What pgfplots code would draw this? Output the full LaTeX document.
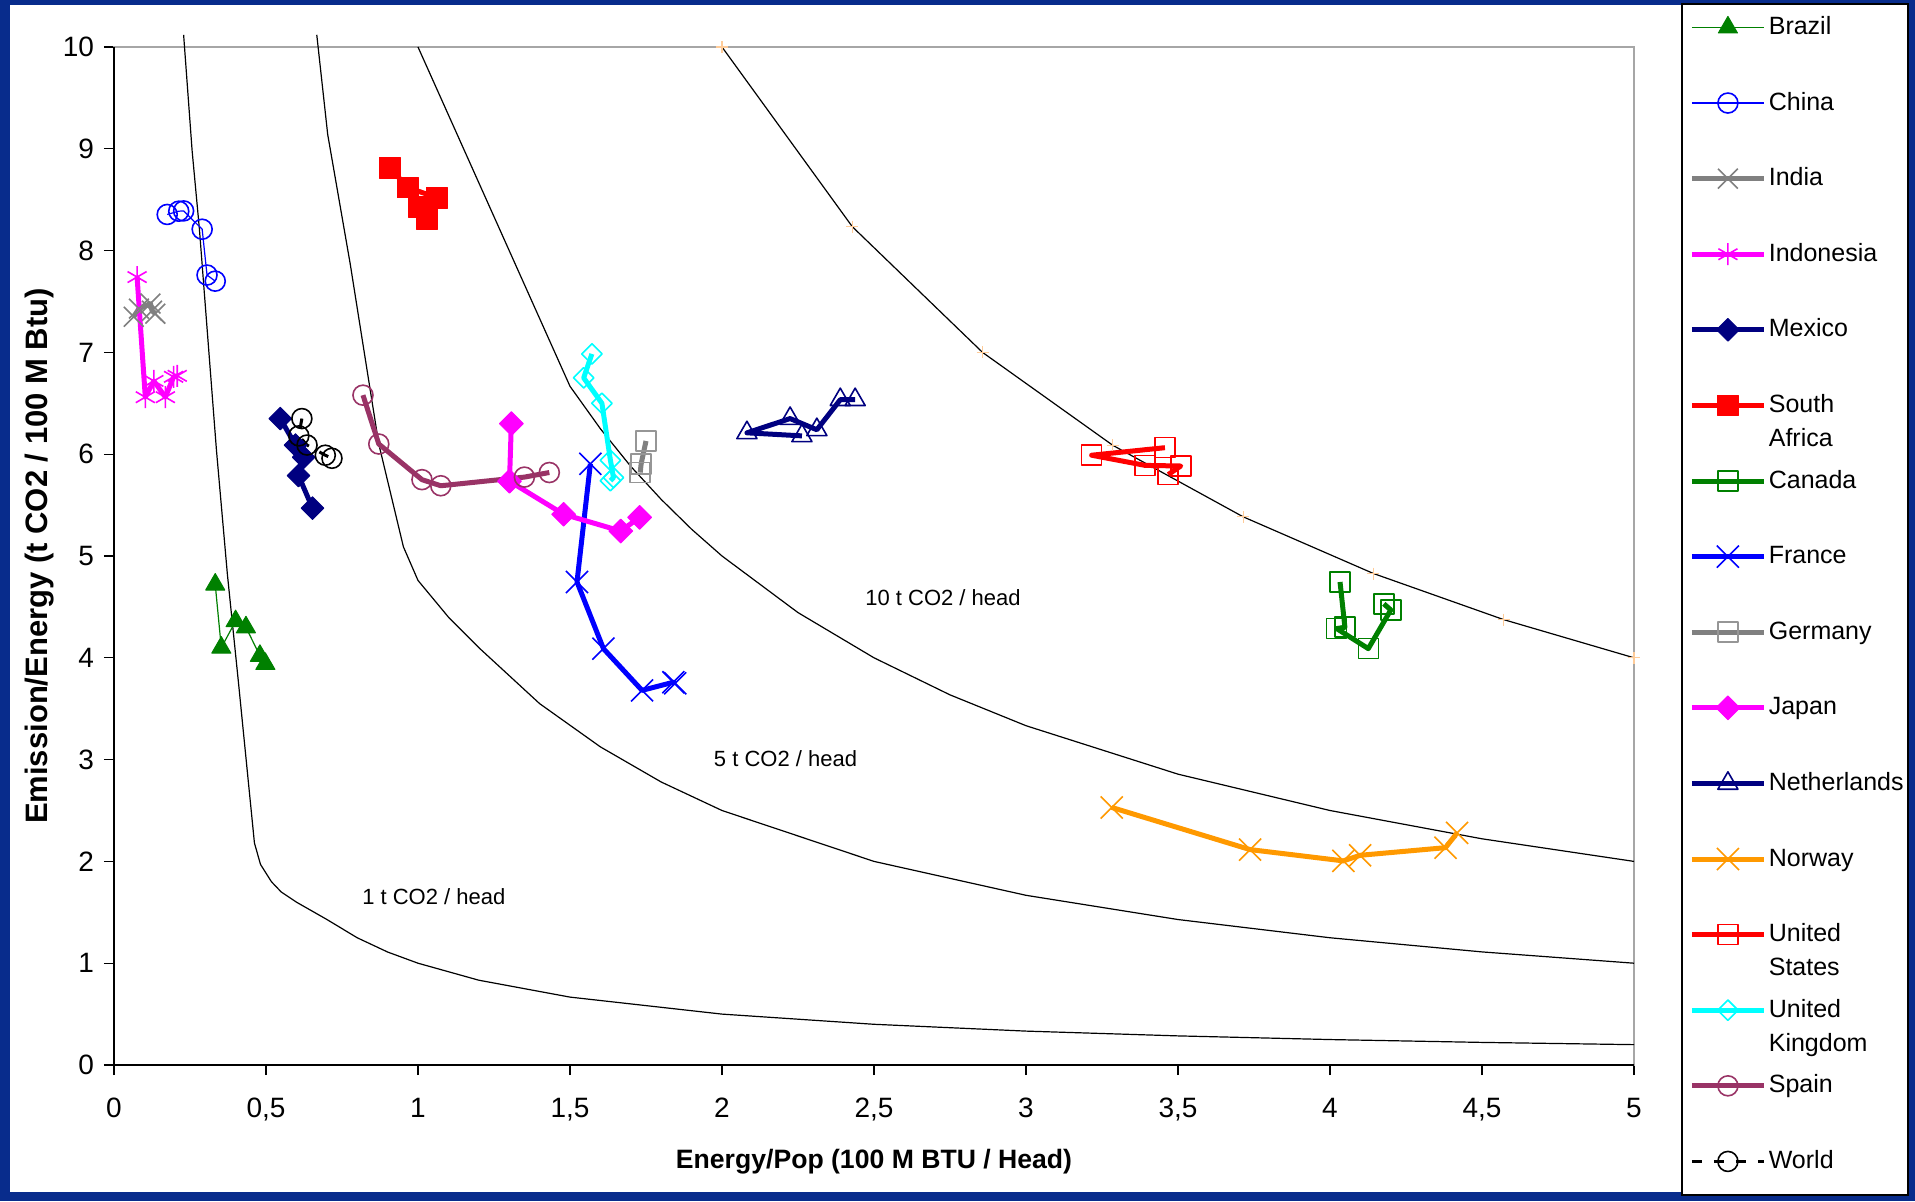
\documentclass[border=0pt]{standalone}
\usepackage{pgfplots}
\pgfplotsset{compat=1.18}
\usepackage{fontspec}
\setmainfont{Liberation Sans}
\definecolor{bgblue}{RGB}{8,44,140}
\definecolor{cgreen}{RGB}{0,128,0}
\definecolor{cblue}{RGB}{0,0,255}
\definecolor{cgray}{RGB}{128,128,128}
\definecolor{cgrayl}{RGB}{150,150,150}
\definecolor{cmag}{RGB}{255,0,255}
\definecolor{cnavy}{RGB}{0,0,128}
\definecolor{cred}{RGB}{255,0,0}
\definecolor{corange}{RGB}{255,153,0}
\definecolor{ccyan}{RGB}{0,255,255}
\definecolor{cplum}{RGB}{153,51,102}
\definecolor{cpeach}{RGB}{255,204,153}
\begin{document}
\begin{tikzpicture}
\fill[bgblue] (0,0) rectangle (957.5pt,600.5pt);
\fill[white] (5pt,4.5pt) rectangle (954pt,598pt);
\filldraw[fill=white,draw=black,line width=0.6pt] (841pt,3pt) rectangle (954pt,598.5pt);
\begin{axis}[
  at={(57pt,68pt)}, anchor=south west,
  scale only axis, width=760pt, height=509pt,
  xmin=0, xmax=5, ymin=0, ymax=10,
  clip=false,
  axis line style={draw=gray!70, line width=0.8pt},
  tick align=outside, major tick length=5pt,
  tick style={black, line width=0.6pt},
  xtick pos=left, ytick pos=left,
  xtick={0,0.5,1,1.5,2,2.5,3,3.5,4,4.5,5},
  xticklabels={0,{0,5},1,{1,5},2,{2,5},3,{3,5},4,{4,5},5},
  ytick={0,1,2,3,4,5,6,7,8,9,10},
  /pgf/number format/assume math mode=true,
  ticklabel style={font=\fontsize{14}{16}\selectfont},
  xticklabel style={yshift=-8pt},
  yticklabel style={xshift=-1.5pt},
  xlabel={Energy/Pop (100 M BTU / Head)},
  ylabel={Emission/Energy (t CO2 / 100 M Btu)},
  xlabel style={font=\bfseries\fontsize{13.3}{15}\selectfont, at={(axis description cs:0.5,-0.0953)}, anchor=center},
  ylabel style={font=\bfseries\fontsize{15.5}{17}\selectfont, at={(axis description cs:-0.0493,0.5)}, anchor=center},
  legend style={at={(axis description cs:1.0362,1.0324)}, anchor=north west, draw=none, fill=none,
    inner sep=0pt, row sep=24.8pt, column sep=1.2pt, font=\fontsize{12.5}{14}\selectfont,
    nodes={inner sep=0pt, text height=10pt, text depth=3pt}},
  legend cell align=left,
  legend image code/.code={\draw[mark repeat=2,mark phase=2] plot coordinates {(0pt,0pt) (18pt,0pt) (36pt,0pt)};},
  every axis plot/.append style={line join=round},
]
% reference curves (t CO2 / head)
\addplot[black, line width=0.6pt, forget plot] coordinates {
(0.229,10.12) (0.257,8.98) (0.281,8.21) (0.337,6.04) (0.373,4.82) (0.410,3.74) (0.442,2.78) (0.462,2.18)
(0.482,1.97) (0.518,1.80) (0.55,1.70) (0.6,1.60) (0.7,1.43) (0.8,1.25) (0.9,1.11) (1,1) (1.2,0.833) (1.5,0.667)
(2,0.5) (2.5,0.4) (3,0.333) (3.5,0.286) (4,0.25) (4.5,0.222) (5,0.2)};
\addplot[black, line width=0.6pt, forget plot] coordinates {
(0.667,10.12) (0.703,9.14) (0.777,7.87) (0.871,6.10) (0.952,5.09) (1.0,4.76) (1.1,4.40) (1.2,4.10) (1.4,3.55)
(1.6,3.125) (1.8,2.78) (2,2.5) (2.5,2) (3,1.667) (3.5,1.429) (4,1.25) (4.5,1.111) (5,1)};
\addplot[black, line width=0.6pt, forget plot] coordinates {
(1,10) (1.5,6.667) (1.6,6.25) (1.7,5.88) (1.8,5.556) (1.9,5.263) (2,5) (2.25,4.444) (2.5,4) (2.75,3.636)
(3,3.333) (3.5,2.857) (4,2.5) (4.5,2.222) (5,2)};
\addplot[black, line width=0.6pt, forget plot, mark=+, mark size=3pt, mark options={cpeach, line width=0.6pt}] coordinates {
(2,10) (2.4286,8.235) (2.8571,7.0) (3.2857,6.087) (3.7143,5.385) (4.1429,4.828) (4.5714,4.375) (5,4)};
\node[font=\fontsize{11}{13}\selectfont] at (axis cs:2.727,4.59) {10 t CO2 / head};
\node[font=\fontsize{11}{13}\selectfont] at (axis cs:2.209,3.01) {5 t CO2 / head};
\node[font=\fontsize{11}{13}\selectfont] at (axis cs:1.052,1.655) {1 t CO2 / head};
% countries
\addplot[cgreen, line width=0.6pt, mark=triangle*, mark size=5.5pt, mark options={fill=cgreen, line width=0.5pt}] coordinates {
(0.333,4.72) (0.353,4.10) (0.40,4.36) (0.434,4.30) (0.48,4.02) (0.498,3.94)};
\addlegendentry{Brazil}
\addplot[cblue, line width=0.6pt, mark=o, mark size=5pt, mark options={line width=0.8pt}] coordinates {
(0.175,8.355) (0.213,8.387) (0.229,8.39) (0.29,8.21) (0.306,7.76) (0.333,7.70)};
\addlegendentry{China}
\addplot[cgray, line width=2.5pt, mark=x, mark size=7pt, mark options={line width=0.8pt}] coordinates {
(0.065,7.35) (0.082,7.43) (0.12,7.48) (0.125,7.41) (0.136,7.38)};
\addlegendentry{India}
\addplot[cmag, line width=2.5pt, mark=asterisk, mark size=5.5pt, mark options={line width=0.8pt}] coordinates {
(0.076,7.74) (0.103,6.56) (0.131,6.72) (0.169,6.56) (0.196,6.76) (0.208,6.77)};
\addlegendentry{Indonesia}
\addplot[cnavy, line width=2.5pt, mark=square*, mark size=4pt, mark options={rotate=45, line width=0.5pt}] coordinates {
(0.547,6.35) (0.597,6.09) (0.624,5.97) (0.607,5.79) (0.653,5.47)};
\addlegendentry{Mexico}
\addplot[cred, line width=2.5pt, mark=square*, mark size=5.2pt, mark options={line width=0.5pt}] coordinates {
(0.909,8.81) (0.966,8.62) (1.062,8.52) (1.002,8.43) (1.03,8.31)};
\addlegendentry{\parbox[t]{70pt}{\setlength{\baselineskip}{17pt}South\\Africa}}
\addplot[cgreen, line width=2.5pt, mark=square, mark size=5pt, mark options={line width=0.8pt}] coordinates {
(4.033,4.745) (4.049,4.30) (4.022,4.287) (4.126,4.09) (4.20,4.47) (4.177,4.53)};
\addlegendentry{Canada}
\addplot[cblue, line width=2.5pt, mark=x, mark size=7.8pt, mark options={line width=0.8pt}] coordinates {
(1.567,5.906) (1.523,4.745) (1.61,4.09) (1.737,3.68) (1.84,3.76) (1.846,3.75)};
\addlegendentry{France}
\addplot[cgray, line width=2.5pt, mark=square, mark size=5pt, mark options={cgrayl, line width=0.8pt}] coordinates {
(1.75,6.13) (1.734,5.905) (1.731,5.82)};
\addlegendentry{Germany}
\addplot[cmag, line width=2.5pt, mark=square*, mark size=4.2pt, mark options={rotate=45, line width=0.5pt}] coordinates {
(1.307,6.30) (1.301,5.735) (1.479,5.41) (1.667,5.245) (1.729,5.38)};
\addlegendentry{Japan}
\addplot[cnavy, line width=2.5pt, mark=triangle, mark size=5.8pt, mark options={line width=0.8pt}] coordinates {
(2.263,6.18) (2.082,6.21) (2.224,6.35) (2.312,6.24) (2.389,6.535) (2.438,6.535)};
\addlegendentry{Netherlands}
\addplot[corange, line width=2.5pt, mark=x, mark size=7.8pt, mark options={line width=0.8pt}] coordinates {
(3.282,2.53) (3.737,2.116) (4.044,2.005) (4.099,2.06) (4.38,2.135) (4.418,2.28)};
\addlegendentry{Norway}
\addplot[cred, line width=2.5pt, mark=square, mark size=5pt, mark options={line width=0.8pt}] coordinates {
(3.457,6.064) (3.216,5.99) (3.392,5.89) (3.509,5.884) (3.468,5.80)};
\addlegendentry{\parbox[t]{70pt}{\setlength{\baselineskip}{17pt}United\\States}}
\addplot[ccyan, line width=2.5pt, mark=square, mark size=3.6pt, mark options={rotate=45, line width=0.8pt}] coordinates {
(1.572,6.985) (1.545,6.75) (1.605,6.50) (1.633,5.94) (1.643,5.77) (1.633,5.74)};
\addlegendentry{\parbox[t]{70pt}{\setlength{\baselineskip}{17pt}United\\Kingdom}}
\addplot[cplum, line width=2.5pt, mark=o, mark size=5pt, mark options={line width=0.8pt}] coordinates {
(0.819,6.58) (0.871,6.10) (1.013,5.75) (1.075,5.69) (1.35,5.775) (1.432,5.82)};
\addlegendentry{Spain}
\addplot[black, line width=1.5pt, dash pattern=on 5pt off 6pt, mark=o, mark size=5pt, mark options={solid, line width=0.8pt}] coordinates {
(0.618,6.35) (0.608,6.18) (0.635,6.09) (0.695,5.99) (0.717,5.96)};
\addlegendentry{World}
\draw[black, line width=0.8pt] (rel axis cs:0,1) -- (rel axis cs:0,0) -- (rel axis cs:1,0);
\end{axis}
\end{tikzpicture}
\end{document}
